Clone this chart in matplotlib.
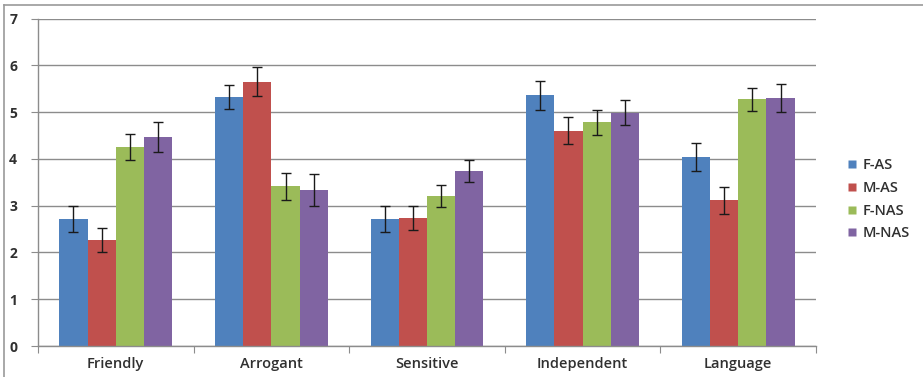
import matplotlib
matplotlib.use("Agg")
import matplotlib.pyplot as plt
from matplotlib.lines import Line2D
import numpy as np

categories = ["Friendly", "Arrogant", "Sensitive", "Independent", "Language"]
series_names = ["F-AS", "M-AS", "F-NAS", "M-NAS"]
f_as = [2.71, 5.32, 2.71, 5.36, 4.04]
m_as = [2.26, 5.65, 2.74, 4.60, 3.11]
f_nas = [4.26, 3.41, 3.21, 4.78, 5.27]
m_nas = [4.47, 3.33, 3.74, 4.99, 5.31]
f_as_err = [0.28, 0.26, 0.28, 0.31, 0.29]
m_as_err = [0.26, 0.31, 0.26, 0.29, 0.29]
f_nas_err = [0.28, 0.28, 0.23, 0.27, 0.25]
m_nas_err = [0.32, 0.34, 0.24, 0.27, 0.30]

values = [f_as, m_as, f_nas, m_nas]
errors = [f_as_err, m_as_err, f_nas_err, m_nas_err]
colors = ["#4F81BD", "#C0504D", "#9BBB59", "#8064A2"]

plt.rcParams["font.family"] = ["Open Sans", "DejaVu Sans"]

W, H = 923, 377
fig = plt.figure(figsize=(W / 100, H / 100), dpi=100)
ax = fig.add_axes([38 / W, 1 - 346 / H, (816 - 38) / W, (346 - 18.5) / H])

n = len(categories)
x = np.arange(n)
group = 0.725
bw = group / 4
for i, (vals, errs, c) in enumerate(zip(values, errors, colors)):
    pos = x - group / 2 + bw * (i + 0.5)
    ax.bar(pos, vals, width=bw, color=c, edgecolor="none", zorder=2,
           label=series_names[i])
    ax.errorbar(pos, vals, yerr=errs, fmt="none", ecolor="#1a1a1a",
                elinewidth=1.0, capsize=3.5, capthick=1.0, zorder=3)

ax.set_xlim(-0.5, n - 0.5)
ax.set_ylim(0, 7)
ax.set_yticks(range(0, 8))
ax.yaxis.grid(True, color="#8c8c8c", linewidth=1.0, zorder=0)
ax.set_axisbelow(True)

for s in ["top", "right"]:
    ax.spines[s].set_visible(False)
for s in ["left", "bottom"]:
    ax.spines[s].set_color("#8c8c8c")
    ax.spines[s].set_linewidth(1.0)

# category labels centred, tick marks on the boundaries between groups
ax.set_xticks(np.arange(-0.5, n, 1.0))
ax.set_xticklabels([])
ax.set_xticks(x, minor=True)
ax.set_xticklabels(categories, minor=True)
ax.tick_params(axis="x", which="major", length=5, color="#8c8c8c", direction="out")
ax.tick_params(axis="x", which="minor", length=0, pad=8, labelsize=10.5,
               labelcolor="#303030")
for lbl in ax.get_xticklabels(minor=True):
    lbl.set_fontweight("semibold")
ax.tick_params(axis="y", length=5, color="#8c8c8c", direction="out", pad=10,
               labelsize=10, labelcolor="#303030")
for lbl in ax.get_yticklabels():
    lbl.set_fontweight("bold")

handles = [Line2D([0], [0], marker="s", linestyle="none", markersize=6,
                  markerfacecolor=c, markeredgecolor="none") for c in colors]
leg = fig.legend(handles, series_names, loc="upper left",
                 bbox_to_anchor=(834 / W, 1 - 145 / H), frameon=False,
                 handlelength=0.7, handletextpad=0.35, labelspacing=0.6,
                 prop={"size": 10.5, "weight": "semibold"})
for t in leg.get_texts():
    t.set_color("#303030")

# outer chart frame (top and left edges)
fig.add_artist(Line2D([4 / W, 1.0], [1 - 5 / H, 1 - 5 / H], color="#9a9a9a",
                      linewidth=1.2, transform=fig.transFigure))
fig.add_artist(Line2D([4 / W, 4 / W], [0.0, 1 - 5 / H], color="#9a9a9a",
                      linewidth=1.2, transform=fig.transFigure))

fig.savefig("out.png", dpi=100)
